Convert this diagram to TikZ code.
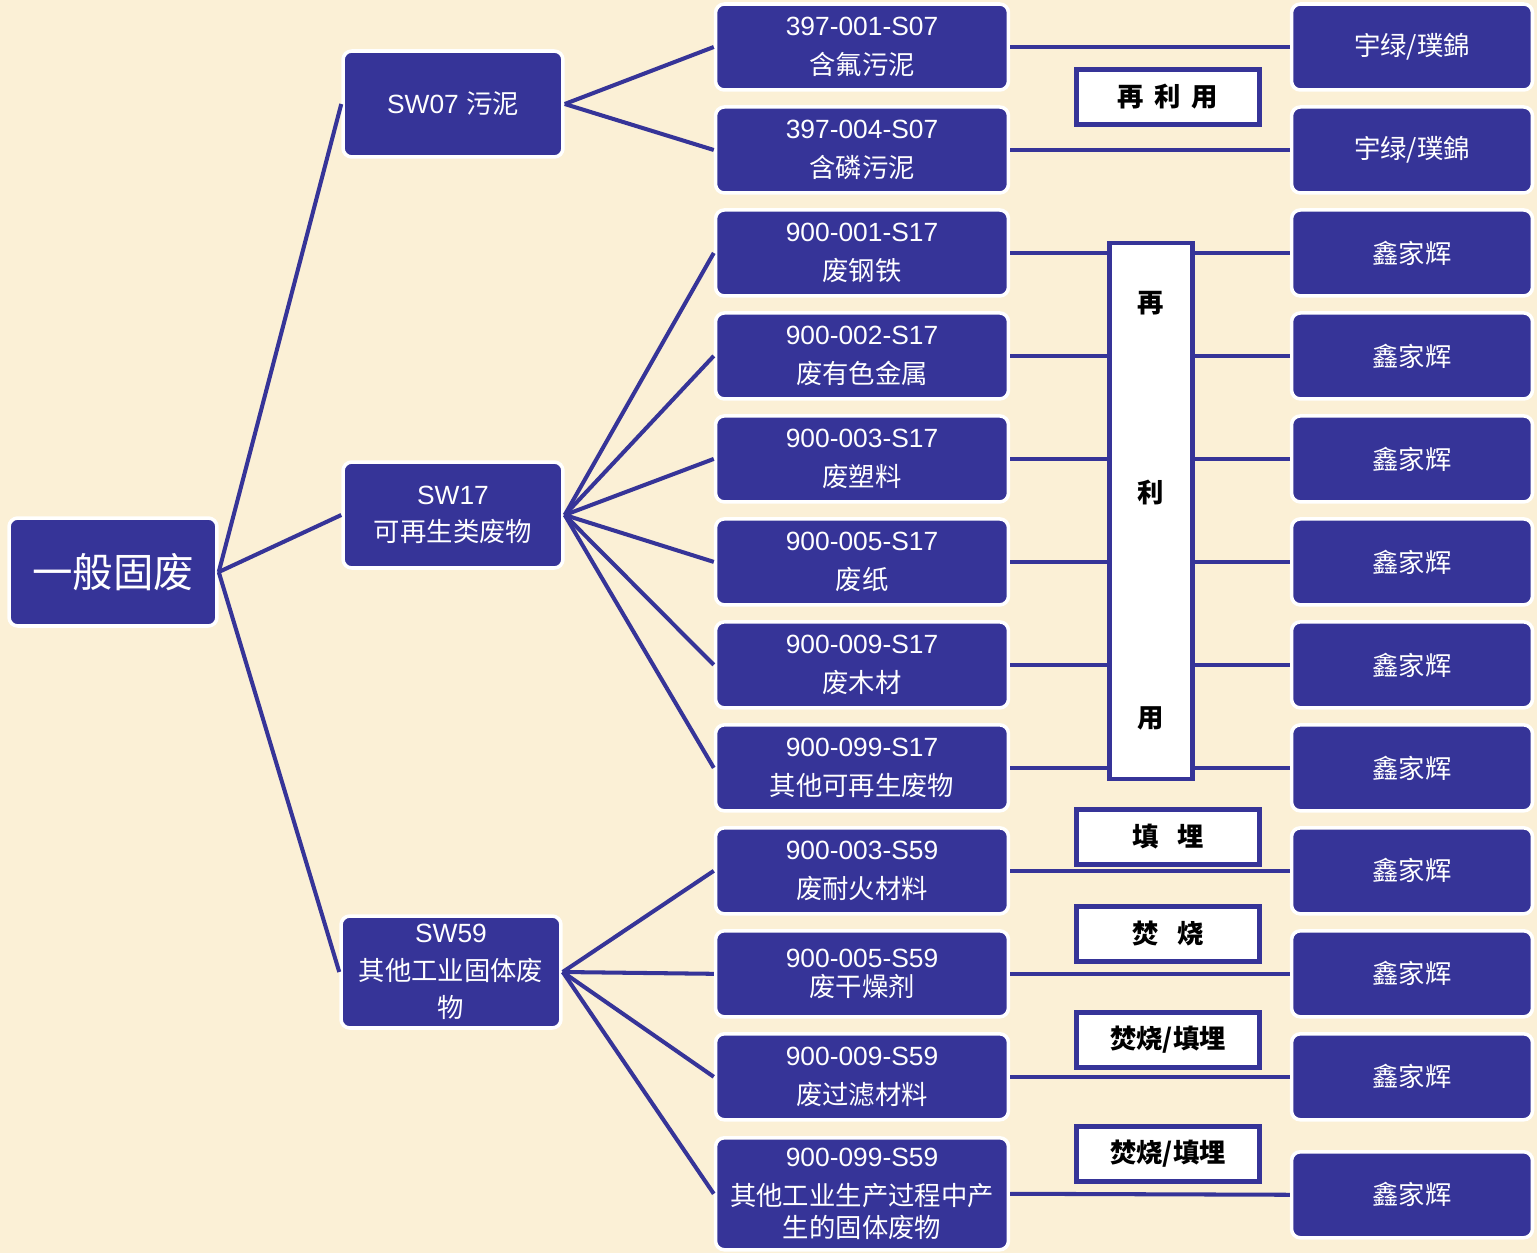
\documentclass[tikz,border=0pt]{standalone}
\usepackage{fontspec}
\setmainfont{Liberation Sans}
\newfontfamily\cjk{Noto Sans CJK SC}
\usepackage{xcolor}
\usetikzlibrary{positioning, shapes}
\definecolor{navy}{RGB}{54,52,152}
\definecolor{paper}{RGB}{251,240,214}
\tikzstyle{box} = [rectangle, rounded corners=5pt, fill=navy, draw=white, line width=2pt, text=white, align=center, inner sep=2pt]
\tikzstyle{root} = [box, minimum width=4.16cm, minimum height=2.16cm, font=\fontsize{23}{28}\selectfont\cjk]
\tikzstyle{kind} = [box, minimum width=4.4cm, minimum height=2.12cm, font=\fontsize{15}{21.5}\selectfont]
\tikzstyle{code} = [box, minimum width=5.86cm, minimum height=1.72cm, font=\fontsize{15}{22}\selectfont]
\tikzstyle{firm} = [box, minimum width=4.82cm, minimum height=1.72cm, font=\fontsize{15}{22}\selectfont\cjk]
\tikzstyle{way} = [rectangle, fill=white, draw=navy, line width=2.5pt, align=center, minimum width=3.66cm, minimum height=1.1cm, font=\fontsize{15}{18}\selectfont\cjk\bfseries]
\tikzstyle{link} = [draw=navy, line width=2.3pt]

\begin{document}
\begin{tikzpicture}[x=0.02cm, y=-0.02cm, node distance=2.06cm]
      \fill [paper] (0,0) rectangle (1537,1253);
      % tree
      \node (gf) [root] at (113,572) {一般固废};
      \node (sw07) [kind] at (453,104) {SW07 {\cjk 污泥}};
      \node (sw17) [kind] at (453,515) {SW17\\{\cjk 可再生类废物}};
      \node (sw59) [kind, minimum height=2.24cm] at (451,972) {SW59\\{\cjk 其他工业固体废}\\{\cjk 物}};
      % waste codes
      \node (m1) [code] at (862,47) {397-001-S07\\{\cjk 含氟污泥}};
      \node (m2) [code, below of=m1] {397-004-S07\\{\cjk 含磷污泥}};
      \node (m3) [code, below of=m2] {900-001-S17\\{\cjk 废钢铁}};
      \node (m4) [code, below of=m3] {900-002-S17\\{\cjk 废有色金属}};
      \node (m5) [code, below of=m4] {900-003-S17\\{\cjk 废塑料}};
      \node (m6) [code, below of=m5] {900-005-S17\\{\cjk 废纸}};
      \node (m7) [code, below of=m6] {900-009-S17\\{\cjk 废木材}};
      \node (m8) [code, below of=m7] {900-099-S17\\{\cjk 其他可再生废物}};
      \node (m9) [code, below of=m8] {900-003-S59\\{\cjk 废耐火材料}};
      \node (m10) [code, below of=m9] {900-005-S59\\[-5.6pt]{\cjk 废干燥剂}};
      \node (m11) [code, below of=m10] {900-009-S59\\{\cjk 废过滤材料}};
      \node (m12) [code, below of=m11, yshift=-0.28cm, minimum height=2.24cm] {900-099-S59\\{\cjk 其他工业生产过程中产}\\[-4pt]{\cjk 生的固体废物}};
      % receivers
      \node (r1) [firm] at (1412,47) {宇绿/璞錦};
      \node (r2) [firm, below of=r1] {宇绿/璞錦};
      \node (r3) [firm, below of=r2] {鑫家辉};
      \node (r4) [firm, below of=r3] {鑫家辉};
      \node (r5) [firm, below of=r4] {鑫家辉};
      \node (r6) [firm, below of=r5] {鑫家辉};
      \node (r7) [firm, below of=r6] {鑫家辉};
      \node (r8) [firm, below of=r7] {鑫家辉};
      \node (r9) [firm, below of=r8] {鑫家辉};
      \node (r10) [firm, below of=r9] {鑫家辉};
      \node (r11) [firm, below of=r10] {鑫家辉};
      \node (r12) [firm, below of=r11, yshift=-0.3cm] {鑫家辉};
      \draw [link] (gf.east) -- (sw07.west);
      \draw [link] (gf.east) -- (sw17.west);
      \draw [link] (gf.east) -- (sw59.west);
      \draw [link] (sw07.east) -- (m1.west);
      \draw [link] (sw07.east) -- (m2.west);
      \draw [link] (sw17.east) -- (m3.west);
      \draw [link] (sw17.east) -- (m4.west);
      \draw [link] (sw17.east) -- (m5.west);
      \draw [link] (sw17.east) -- (m6.west);
      \draw [link] (sw17.east) -- (m7.west);
      \draw [link] (sw17.east) -- (m8.west);
      \draw [link] (sw59.east) -- (m9.west);
      \draw [link] (sw59.east) -- (m10.west);
      \draw [link] (sw59.east) -- (m11.west);
      \draw [link] (sw59.east) -- (m12.west);
      \draw [link] (m1.east) -- (r1.west);
      \draw [link] (m2.east) -- (r2.west);
      \draw [link] (m3.east) -- (r3.west);
      \draw [link] (m4.east) -- (r4.west);
      \draw [link] (m5.east) -- (r5.west);
      \draw [link] (m6.east) -- (r6.west);
      \draw [link] (m7.east) -- (r7.west);
      \draw [link] (m8.east) -- (r8.west);
      \draw [link] (m9.east) -- (r9.west);
      \draw [link] (m10.east) -- (r10.west);
      \draw [link] (m11.east) -- (r11.west);
      \draw [link] (m12.east) -- (r12.west);
      % disposal
      \node (w1) [way] at (1168,97) {再\hspace{0.4em}利\hspace{0.4em}用};
      \node (reuse) [way, minimum width=1.66cm, minimum height=10.72cm] at (1151,511) {再\\[90pt]利\\[110pt]用};
      \node (w2) [way] at (1168,837) {填\hspace{0.7em}埋};
      \node (w3) [way] at (1168,934) {焚\hspace{0.7em}烧};
      \node (w4) [way] at (1168,1040) {焚烧/填埋};
      \node (w5) [way] at (1168,1154) {焚烧/填埋};
    \end{tikzpicture}
\end{document}
